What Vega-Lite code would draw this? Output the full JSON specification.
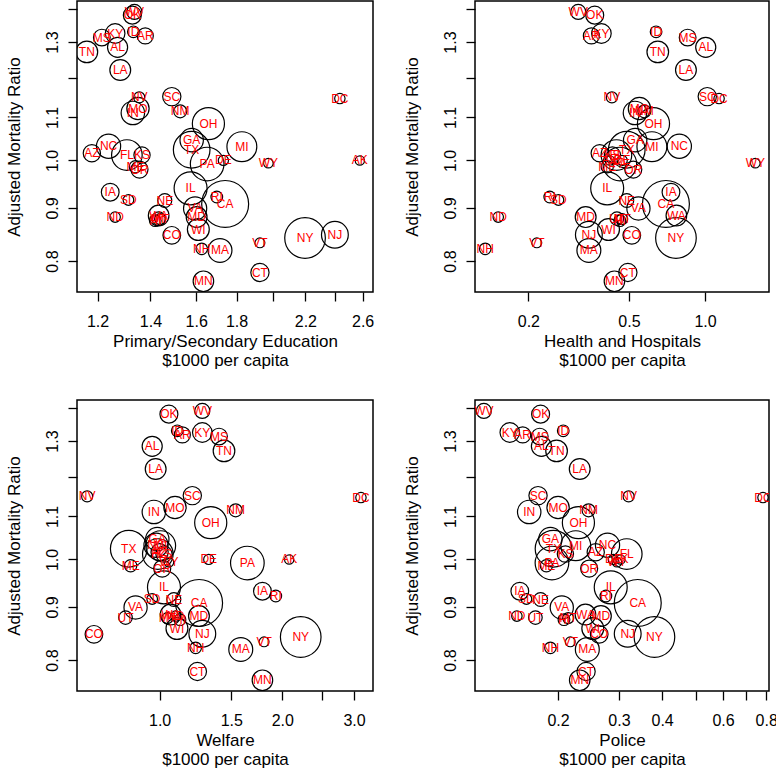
{
"$schema": "https://vega.github.io/schema/vega-lite/v6.json",
"padding": {"left": 4, "top": 0, "right": 0, "bottom": 0},
"background": "white",
"datasets": {"s": [
{"state":"WV","mort":1.39,"educ":1.336,"health":0.315,"welfare":1.273,"police":0.122,"pop":1.95},
{"state":"OK","mort":1.38,"educ":1.328,"health":0.366,"welfare":1.054,"police":0.178,"pop":3.0},
{"state":"ID","mort":1.33,"educ":1.332,"health":0.64,"welfare":1.105,"police":0.207,"pop":0.94},
{"state":"KY","mort":1.325,"educ":1.263,"health":0.389,"welfare":1.273,"police":0.145,"pop":3.66},
{"state":"AR","mort":1.318,"educ":1.379,"health":0.355,"welfare":1.137,"police":0.158,"pop":2.29},
{"state":"MS","mort":1.313,"educ":1.215,"health":0.853,"welfare":1.399,"police":0.177,"pop":2.52},
{"state":"AL","mort":1.285,"educ":1.272,"health":1.006,"welfare":0.959,"police":0.179,"pop":3.89},
{"state":"TN","mort":1.272,"educ":1.163,"health":0.65,"welfare":1.439,"police":0.198,"pop":4.59},
{"state":"LA","mort":1.222,"educ":1.282,"health":0.84,"welfare":0.978,"police":0.231,"pop":4.21},
{"state":"NV","mort":1.15,"educ":1.355,"health":0.428,"welfare":0.664,"police":0.32,"pop":0.8},
{"state":"SC","mort":1.152,"educ":1.49,"health":1.02,"welfare":1.203,"police":0.175,"pop":3.12},
{"state":"DC","mort":1.147,"educ":2.433,"health":1.136,"welfare":3.12,"police":0.783,"pop":0.64},
{"state":"MO","mort":1.122,"educ":1.35,"health":0.55,"welfare":1.091,"police":0.2,"pop":4.92},
{"state":"NM","mort":1.115,"educ":1.527,"health":0.575,"welfare":1.537,"police":0.245,"pop":1.3},
{"state":"IN","mort":1.111,"educ":1.33,"health":0.528,"welfare":0.968,"police":0.165,"pop":5.49},
{"state":"OH","mort":1.085,"educ":1.658,"health":0.625,"welfare":1.335,"police":0.229,"pop":10.8},
{"state":"GA","mort":1.046,"educ":1.579,"health":0.529,"welfare":0.987,"police":0.19,"pop":5.46},
{"state":"NC","mort":1.032,"educ":1.239,"health":0.791,"welfare":0.98,"police":0.278,"pop":5.88},
{"state":"MI","mort":1.031,"educ":1.828,"health":0.616,"welfare":1.006,"police":0.225,"pop":9.26},
{"state":"TX","mort":1.024,"educ":1.579,"health":0.49,"welfare":0.84,"police":0.194,"pop":14.2},
{"state":"AZ","mort":1.016,"educ":1.18,"health":0.383,"welfare":1.0,"police":0.257,"pop":2.72},
{"state":"FL","mort":1.012,"educ":1.307,"health":0.446,"welfare":0.99,"police":0.316,"pop":9.75},
{"state":"KS","mort":1.012,"educ":1.366,"health":0.43,"welfare":1.025,"police":0.21,"pop":2.36},
{"state":"DE","mort":1.0,"educ":1.732,"health":0.47,"welfare":1.32,"police":0.289,"pop":0.59},
{"state":"AK","mort":1.0,"educ":2.579,"health":0.42,"welfare":2.08,"police":0.303,"pop":0.4},
{"state":"WY","mort":0.994,"educ":1.975,"health":1.58,"welfare":1.054,"police":0.296,"pop":0.47},
{"state":"PA","mort":0.992,"educ":1.652,"health":0.46,"welfare":1.642,"police":0.192,"pop":11.9},
{"state":"ME","mort":0.986,"educ":1.34,"health":0.41,"welfare":0.849,"police":0.185,"pop":1.12},
{"state":"OR","mort":0.98,"educ":1.356,"health":0.52,"welfare":1.015,"police":0.246,"pop":2.63},
{"state":"IL","mort":0.94,"educ":1.574,"health":0.41,"welfare":1.025,"police":0.284,"pop":11.4},
{"state":"IA","mort":0.932,"educ":1.245,"health":0.733,"welfare":1.788,"police":0.155,"pop":2.91},
{"state":"RI","mort":0.922,"educ":1.699,"health":0.243,"welfare":1.928,"police":0.275,"pop":0.95},
{"state":"SD","mort":0.916,"educ":1.313,"health":0.263,"welfare":0.959,"police":0.162,"pop":0.69},
{"state":"NE","mort":0.915,"educ":1.46,"health":0.49,"welfare":1.084,"police":0.178,"pop":1.57},
{"state":"CA","mort":0.908,"educ":1.741,"health":0.7,"welfare":1.25,"police":0.34,"pop":23.7},
{"state":"VA","mort":0.899,"educ":1.595,"health":0.545,"welfare":0.873,"police":0.205,"pop":5.35},
{"state":"MD","mort":0.882,"educ":1.602,"health":0.337,"welfare":1.249,"police":0.266,"pop":4.22},
{"state":"WA","mort":0.885,"educ":1.434,"health":0.77,"welfare":1.064,"police":0.24,"pop":4.13},
{"state":"HI","mort":0.875,"educ":1.42,"health":0.46,"welfare":1.122,"police":0.208,"pop":0.96},
{"state":"ND","mort":0.882,"educ":1.263,"health":0.152,"welfare":1.095,"police":0.152,"pop":0.65},
{"state":"UT","mort":0.879,"educ":1.434,"health":0.448,"welfare":0.825,"police":0.172,"pop":1.46},
{"state":"MT","mort":0.878,"educ":1.44,"health":0.47,"welfare":1.045,"police":0.214,"pop":0.79},
{"state":"WI","mort":0.858,"educ":1.61,"health":0.415,"welfare":1.103,"police":0.252,"pop":4.71},
{"state":"NJ","mort":0.848,"educ":2.398,"health":0.347,"welfare":1.273,"police":0.318,"pop":7.36},
{"state":"CO","mort":0.847,"educ":1.49,"health":0.513,"welfare":0.69,"police":0.263,"pop":2.89},
{"state":"NY","mort":0.842,"educ":2.198,"health":0.767,"welfare":2.22,"police":0.38,"pop":17.6},
{"state":"VT","mort":0.833,"educ":1.927,"health":0.216,"welfare":1.805,"police":0.217,"pop":0.51},
{"state":"NH","mort":0.822,"educ":1.626,"health":0.135,"welfare":1.226,"police":0.19,"pop":0.92},
{"state":"MA","mort":0.819,"educ":1.715,"health":0.347,"welfare":1.582,"police":0.243,"pop":5.74},
{"state":"CT","mort":0.78,"educ":1.927,"health":0.495,"welfare":1.238,"police":0.241,"pop":3.11},
{"state":"MN","mort":0.765,"educ":1.634,"health":0.438,"welfare":1.788,"police":0.231,"pop":4.08}
]},
"config": {
  "view": {"stroke": "black", "strokeWidth": 1.5},
  "font": "Liberation Sans",
  "axis": {"grid": false, "domain": false, "tickColor": "black", "tickSize": 9, "tickWidth": 1.3, "labelColor": "black", "titleColor": "black", "labelFont": "Liberation Sans", "titleFont": "Liberation Sans", "labelFontSize": 16, "titleFontSize": 17, "titleFontWeight": "normal", "labelOverlap": false, "labelFlush": false},
  "axisX": {"labelPadding": 12, "titlePadding": 4, "titleLineHeight": 19},
  "axisY": {"labelAngle": -90, "labelAlign": "center", "labelBaseline": "bottom", "labelPadding": 8, "titlePadding": 21}
},
"columns": 2,
"spacing": {"row": 30, "column": 27},
"concat": [
 {"width": 296, "height": 291, "data": {"name": "s"},
  "encoding": {
   "x": {"field": "educ", "type": "quantitative", "scale": {"type": "log", "domain": [1.13, 2.68], "nice": false, "zero": false}, "axis": {"values": [1.2,1.4,1.6,1.8,2.0,2.2,2.4,2.6], "format": ".1f", "labelExpr": "indexof([2,2.4], datum.value) >= 0 ? '' : datum.label", "title": ["Primary/Secondary Education", "$1000 per capita"]}},
   "y": {"field": "mort", "type": "quantitative", "scale": {"type": "log", "domain": [0.747, 1.424], "nice": false, "zero": false}, "axis": {"values": [0.8,0.9,1.0,1.1,1.2,1.3,1.4], "format": ".1f", "labelExpr": "indexof([1.2,1.4], datum.value) >= 0 ? '' : datum.label", "title": "Adjusted Mortality Ratio"}}
  },
  "layer": [
   {"mark": {"type": "point", "shape": "circle", "filled": false, "stroke": "black", "strokeWidth": 1.2, "opacity": 1, "clip": true}, "encoding": {"size": {"field": "pop", "type": "quantitative", "scale": {"domain": [0, 17.6], "range": [50, 1650]}, "legend": null}}},
   {"mark": {"type": "text", "color": "#ff0000", "fontSize": 12, "clip": true}, "encoding": {"text": {"field": "state"}}}
  ]},
 {"width": 294, "height": 291, "data": {"name": "s"},
  "encoding": {
   "x": {"field": "health", "type": "quantitative", "scale": {"type": "log", "domain": [0.123, 1.79], "nice": false, "zero": false}, "axis": {"values": [0.2,0.5,1.0], "format": ".1f", "title": ["Health and Hospitals", "$1000 per capita"]}},
   "y": {"field": "mort", "type": "quantitative", "scale": {"type": "log", "domain": [0.747, 1.424], "nice": false, "zero": false}, "axis": {"values": [0.8,0.9,1.0,1.1,1.2,1.3,1.4], "format": ".1f", "labelExpr": "indexof([1.2,1.4], datum.value) >= 0 ? '' : datum.label", "title": "Adjusted Mortality Ratio"}}
  },
  "layer": [
   {"mark": {"type": "point", "shape": "circle", "filled": false, "stroke": "black", "strokeWidth": 1.2, "opacity": 1, "clip": true}, "encoding": {"size": {"field": "pop", "type": "quantitative", "scale": {"domain": [0, 17.6], "range": [50, 1650]}, "legend": null}}},
   {"mark": {"type": "text", "color": "#ff0000", "fontSize": 12, "clip": true}, "encoding": {"text": {"field": "state"}}}
  ]},
 {"width": 296, "height": 291, "data": {"name": "s"},
  "encoding": {
   "x": {"field": "welfare", "type": "quantitative", "scale": {"type": "log", "domain": [0.627, 3.34], "nice": false, "zero": false}, "axis": {"values": [1.0,1.5,2.0,2.5,3.0], "format": ".1f", "labelExpr": "datum.value == 2.5 ? '' : datum.label", "title": ["Welfare", "$1000 per capita"]}},
   "y": {"field": "mort", "type": "quantitative", "scale": {"type": "log", "domain": [0.747, 1.424], "nice": false, "zero": false}, "axis": {"values": [0.8,0.9,1.0,1.1,1.2,1.3,1.4], "format": ".1f", "labelExpr": "indexof([1.2,1.4], datum.value) >= 0 ? '' : datum.label", "title": "Adjusted Mortality Ratio"}}
  },
  "layer": [
   {"mark": {"type": "point", "shape": "circle", "filled": false, "stroke": "black", "strokeWidth": 1.2, "opacity": 1, "clip": true}, "encoding": {"size": {"field": "pop", "type": "quantitative", "scale": {"domain": [0, 17.6], "range": [50, 1650]}, "legend": null}}},
   {"mark": {"type": "text", "color": "#ff0000", "fontSize": 12, "clip": true}, "encoding": {"text": {"field": "state"}}}
  ]},
 {"width": 294, "height": 291, "data": {"name": "s"},
  "encoding": {
   "x": {"field": "police", "type": "quantitative", "scale": {"type": "log", "domain": [0.115, 0.815], "nice": false, "zero": false}, "axis": {"values": [0.2,0.3,0.4,0.5,0.6,0.7,0.8], "format": ".1f", "labelExpr": "indexof([0.5,0.7], datum.value) >= 0 ? '' : datum.label", "title": ["Police", "$1000 per capita"]}},
   "y": {"field": "mort", "type": "quantitative", "scale": {"type": "log", "domain": [0.747, 1.424], "nice": false, "zero": false}, "axis": {"values": [0.8,0.9,1.0,1.1,1.2,1.3,1.4], "format": ".1f", "labelExpr": "indexof([1.2,1.4], datum.value) >= 0 ? '' : datum.label", "title": "Adjusted Mortality Ratio"}}
  },
  "layer": [
   {"mark": {"type": "point", "shape": "circle", "filled": false, "stroke": "black", "strokeWidth": 1.2, "opacity": 1, "clip": true}, "encoding": {"size": {"field": "pop", "type": "quantitative", "scale": {"domain": [0, 17.6], "range": [50, 1650]}, "legend": null}}},
   {"mark": {"type": "text", "color": "#ff0000", "fontSize": 12, "clip": true}, "encoding": {"text": {"field": "state"}}}
  ]}
]
}
